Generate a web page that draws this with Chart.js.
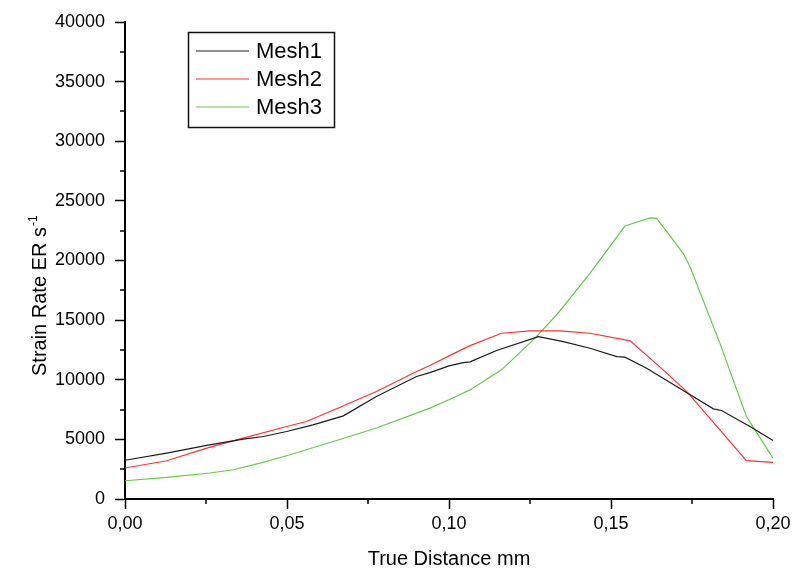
<!DOCTYPE html>
<html lang="en">
<head>
  <meta charset="UTF-8">
  <title>Strain Rate vs True Distance</title>
  <style>
    body {
      margin: 0;
      background-color: #ffffff;
    }

    .chart-container {
      width: 795px;
      height: 576px;
    }
  </style>
</head>
<body>

  <div class="chart-container">
    <canvas id="strainChart"></canvas>
  </div>

  <script src="https://cdn.jsdelivr.net/npm/chart.js"></script>

  <script>
    // values
    const mesh1X = [0, 0.0129, 0.0252, 0.0365, 0.0427, 0.0499, 0.058, 0.0674, 0.0776, 0.090, 0.0941, 0.100, 0.1044, 0.1065, 0.1147, 0.1276, 0.1353, 0.1435, 0.1518, 0.1543, 0.161, 0.1728, 0.1816, 0.1841, 0.1929, 0.2];
    const mesh1Y = [3250, 3850, 4490, 5025, 5240, 5660, 6220, 6975, 8590, 10270, 10600, 11160, 11440, 11500, 12450, 13620, 13200, 12640, 11940, 11890, 10970, 9010, 7560, 7420, 6080, 4910];

    const mesh2X = [0, 0.0129, 0.0252, 0.0365, 0.0499, 0.056, 0.0664, 0.0776, 0.090, 0.0941, 0.100, 0.1065, 0.1162, 0.125, 0.1343, 0.1435, 0.1559, 0.1661, 0.1734, 0.1836, 0.1918, 0.2];
    const mesh2Y = [2600, 3210, 4270, 5110, 6080, 6500, 7700, 9010, 10690, 11190, 12000, 12860, 13900, 14100, 14100, 13900, 13260, 10830, 9010, 5800, 3210, 3070];

    const mesh3X = [0, 0.0129, 0.0262, 0.0334, 0.0417, 0.0509, 0.0643, 0.0776, 0.090, 0.0941, 0.1003, 0.1065, 0.1162, 0.126, 0.1332, 0.1435, 0.1543, 0.162, 0.1641, 0.1723, 0.1744, 0.1836, 0.1918, 0.2];
    const mesh3Y = [1530, 1810, 2180, 2450, 3010, 3710, 4820, 5950, 7200, 7620, 8370, 9150, 10830, 13340, 15430, 18930, 22890, 23580, 23530, 20600, 19480, 13070, 6920, 3430];

    const seriesNames = ["Mesh1", "Mesh2", "Mesh3"];
    const seriesColors = ["#1a1a1a", "#ff3030", "#66c84a"];

    const xTitle = "True Distance mm";
    const yTitle = "Strain Rate ER s";
    const yTitleSup = "-1";

    const FONT = "'Liberation Sans', Arial, sans-serif";

    function toPoints(xs, ys) {
      return xs.map((x, i) => ({ x: x, y: ys[i] }));
    }

    // minor ticks, legend box and y title
    const extras = {
      id: "extras",
      afterDraw(chart) {
        const ctx = chart.ctx;
        const xs = chart.scales.x;
        const ys = chart.scales.y;
        const area = chart.chartArea;
        ctx.save();
        ctx.strokeStyle = "#000";
        ctx.lineWidth = 1.5;

        // minor ticks
        for (let v = 0.025; v < 0.2; v += 0.05) {
          const px = Math.round(xs.getPixelForValue(v));
          ctx.beginPath();
          ctx.moveTo(px, area.bottom);
          ctx.lineTo(px, area.bottom + 5);
          ctx.stroke();
        }
        for (let v = 2500; v < 40000; v += 5000) {
          const py = Math.round(ys.getPixelForValue(v));
          ctx.beginPath();
          ctx.moveTo(area.left, py);
          ctx.lineTo(area.left - 5, py);
          ctx.stroke();
        }

        // legend
        ctx.lineWidth = 1.5;
        ctx.strokeStyle = "#111";
        ctx.strokeRect(188.5, 32.5, 146, 95);
        ctx.font = "22px " + FONT;
        ctx.textBaseline = "middle";
        ctx.fillStyle = "#000";
        const rows = [51, 79, 107];
        chart.data.datasets.forEach((ds, i) => {
          ctx.strokeStyle = ds.borderColor;
          ctx.lineWidth = 1.2;
          ctx.beginPath();
          ctx.moveTo(196, rows[i]);
          ctx.lineTo(249, rows[i]);
          ctx.stroke();
          ctx.fillText(ds.label, 256, rows[i] + 1);
        });

        // y title with superscript
        ctx.translate(46, 376);
        ctx.rotate(-Math.PI / 2);
        ctx.textBaseline = "alphabetic";
        ctx.font = "20px " + FONT;
        ctx.fillText(yTitle, 0, 0);
        const w = ctx.measureText(yTitle).width;
        ctx.font = "12px " + FONT;
        ctx.fillText(yTitleSup, w + 1, -9);
        ctx.restore();
      }
    };

    new Chart(document.getElementById("strainChart"), {
      type: "scatter",
      data: {
        datasets: seriesNames.map((name, i) => ({
          label: name,
          data: toPoints([mesh1X, mesh2X, mesh3X][i], [mesh1Y, mesh2Y, mesh3Y][i]),
          showLine: true,
          borderColor: seriesColors[i],
          backgroundColor: seriesColors[i],
          borderWidth: 1.2,
          pointRadius: 0,
          tension: 0
        }))
      },
      options: {
        responsive: true,
        maintainAspectRatio: false,
        animation: false,
        layout: { padding: { top: 22, right: 22, left: 0, bottom: 0 } },
        plugins: {
          legend: { display: false },
          tooltip: { enabled: false }
        },
        scales: {
          x: {
            type: "linear",
            min: 0,
            max: 0.2,
            afterFit: s => { s.height = 77; },
            border: { display: true, color: "#000", width: 2 },
            grid: { drawOnChartArea: false, drawTicks: true, tickLength: 10, tickColor: "#000", tickWidth: 1.5 },
            ticks: {
              stepSize: 0.05,
              color: "#000",
              padding: 4,
              maxRotation: 0,
              font: { family: FONT, size: 18 },
              callback: v => v.toFixed(2).replace(".", ",")
            },
            title: {
              display: true,
              text: xTitle,
              color: "#000",
              font: { family: FONT, size: 20 },
              padding: { top: 0, bottom: 5 }
            }
          },
          y: {
            min: 0,
            max: 40000,
            afterFit: s => { s.width = 125; },
            border: { display: true, color: "#000", width: 2 },
            grid: { drawOnChartArea: false, drawTicks: true, tickLength: 10, tickColor: "#000", tickWidth: 1.5 },
            ticks: {
              stepSize: 5000,
              color: "#000",
              padding: 10,
              font: { family: FONT, size: 18 },
              callback: v => String(v)
            }
          }
        }
      },
      plugins: [extras]
    });
  </script>

</body>
</html>
